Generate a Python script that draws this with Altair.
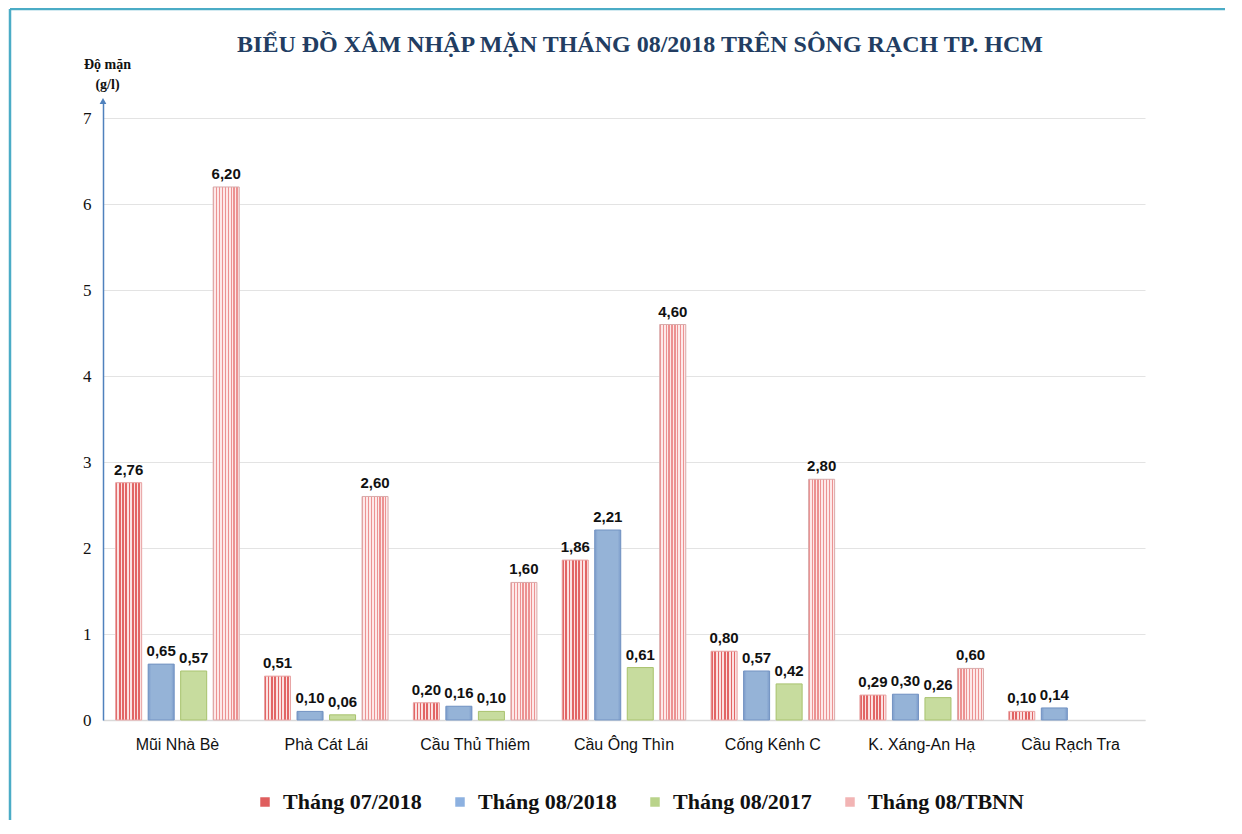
import altair as alt
import pandas as pd

locations = ["Mũi Nhà Bè", "Phà Cát Lái", "Cầu Thủ Thiêm", "Cầu Ông Thìn",
             "Cống Kênh C", "K. Xáng-An Hạ", "Cầu Rạch Tra"]
series_names = ["Tháng 07/2018", "Tháng 08/2018", "Tháng 08/2017", "Tháng 08/TBNN"]
thang_07_2018 = [2.76, 0.51, 0.20, 1.86, 0.80, 0.29, 0.10]
thang_08_2018 = [0.65, 0.10, 0.16, 2.21, 0.57, 0.30, 0.14]
thang_08_2017 = [0.57, 0.06, 0.10, 0.61, 0.42, 0.26, None]
thang_08_tbnn = [6.20, 2.60, 1.60, 4.60, 2.80, 0.60, None]
y_ticks = [0, 1, 2, 3, 4, 5, 6, 7]
title_text = "BIỂU ĐỒ XÂM NHẬP MẶN THÁNG 08/2018 TRÊN SÔNG RẠCH TP. HCM"

rows = []
for s, vals in zip(series_names, [thang_07_2018, thang_08_2018, thang_08_2017, thang_08_tbnn]):
    for loc, v in zip(locations, vals):
        if v is not None:
            rows.append({"loc": loc, "series": s, "value": v})
df = pd.DataFrame(rows)


def stripes(c1, c2, n, frac):
    stops = []
    for i in range(n):
        a = i / n
        b = (i + frac) / n
        c = (i + 1) / n
        stops += [{"offset": a, "color": c1}, {"offset": b, "color": c1},
                  {"offset": b, "color": c2}, {"offset": c, "color": c2}]
    return {"gradient": "linear", "x1": 0, "x2": 1, "y1": 0, "y2": 0, "stops": stops}


red_check = stripes("#e26565", "#fbe2e2", 8, 0.5)
red_stripe = stripes("#ec9292", "#fde9e9", 9, 0.45)
blue_grad = {"gradient": "linear", "x1": 0, "x2": 1, "y1": 0, "y2": 0,
             "stops": [{"offset": 0, "color": "#7c9ccb"}, {"offset": 0.12, "color": "#95b3d7"},
                       {"offset": 0.88, "color": "#95b3d7"}, {"offset": 1, "color": "#7c9ccb"}]}
green_fill = "#c7dc9e"

FONT_SERIF = "Liberation Serif"
FONT_SANS = "Liberation Sans"

x_enc = alt.X("loc:N", sort=locations, title=None,
              scale=alt.Scale(paddingInner=0.17, paddingOuter=0.085),
              axis=alt.Axis(labelAngle=0, ticks=False, domainColor="#d9d9d9", domainWidth=1.5,
                            labelFont=FONT_SANS, labelFontSize=16, labelPadding=16,
                            labelColor="#111111", grid=False))
xoff_enc = alt.XOffset("series:N", sort=series_names,
                       scale=alt.Scale(domain=series_names, paddingInner=0.2))
y_enc = alt.Y("value:Q", scale=alt.Scale(domain=[0, 7.2], nice=False),
              axis=alt.Axis(values=y_ticks, format="d", ticks=False, grid=True,
                            gridColor="#e3e3e3",
                            domainColor="#4f81bd", domainWidth=1.5,
                            labelFont=FONT_SERIF, labelFontSize=17, labelPadding=12,
                            labelColor="#111111",
                            title=["Độ mặn", "(g/l)"], titleAngle=0, titleFont=FONT_SERIF,
                            titleFontSize=14, titleFontWeight="bold", titleX=4, titleY=-44,
                            titleAlign="center", titleBaseline="top", titleColor="#111111",
                            titleLineHeight=20))

base = alt.Chart(df)

bars = base.mark_bar(stroke="#ffffff", strokeWidth=0.5).encode(
    x=x_enc, xOffset=xoff_enc, y=y_enc,
    color=alt.Color("series:N", sort=series_names,
                    scale=alt.Scale(domain=series_names,
                                    range=["#df5e5e", "#8db1e0", "#b9d38a", "#f2b4b4"]),
                    legend=alt.Legend(title=None, orient="none", direction="horizontal",
                                      columns=4, legendX=151, legendY=690,
                                      labelFont=FONT_SERIF, labelFontSize=22,
                                      labelFontWeight="bold", labelColor="#111111",
                                      symbolType="square", symbolSize=90,
                                      symbolStrokeWidth=0, labelOffset=7,
                                      columnPadding=27, labelLimit=300))
)


def overlay(name, fill, stroke):
    return base.transform_filter(alt.datum.series == name).mark_bar(
        fill=fill, stroke=stroke, strokeWidth=1
    ).encode(x=alt.X("loc:N", sort=locations), xOffset=alt.XOffset("series:N", sort=series_names),
             y=alt.Y("value:Q"))


ov1 = overlay(series_names[0], red_check, "#e8a4a4")
ov2 = overlay(series_names[1], blue_grad, "#7393c2")
ov3 = overlay(series_names[2], green_fill, "#a9c36f")
ov4 = overlay(series_names[3], red_stripe, "#d9abab")

labels = base.transform_calculate(
    lab="replace(format(datum.value, '.2f'), '.', ',')"
).mark_text(baseline="bottom", dy=-5, font=FONT_SANS, fontSize=15, fontWeight="bold",
            color="#111111").encode(
    x=alt.X("loc:N", sort=locations), xOffset=alt.XOffset("series:N", sort=series_names),
    y=alt.Y("value:Q"), text="lab:N")

arrow = alt.Chart(pd.DataFrame({"v": [7.2]})).mark_point(
    shape="triangle-up", filled=True, size=45, color="#4f81bd", opacity=1
).encode(y=alt.Y("v:Q"), x=alt.value(0))

title_mark = alt.Chart(pd.DataFrame({"t": [title_text]})).mark_text(
    font=FONT_SERIF, fontSize=24, fontWeight="bold", color="#223d62",
    align="center", baseline="middle"
).encode(text="t:N", x=alt.value(537), y=alt.value(-56))

frame_top = alt.Chart(pd.DataFrame({"v": [0]})).mark_rule(
    color="#4bacc6", strokeWidth=2.5
).encode(x=alt.value(-93), x2=alt.value(1200), y=alt.value(-92))
frame_left = alt.Chart(pd.DataFrame({"v": [0]})).mark_rule(
    color="#4bacc6", strokeWidth=2.5
).encode(x=alt.value(-93), y=alt.value(-92), y2=alt.value(800))

chart = alt.layer(bars, ov1, ov2, ov3, ov4, labels, arrow, title_mark,
                  frame_top, frame_left).properties(
    width=1042, height=619,
    autosize=alt.AutoSizeParams(type="none"),
    padding={"left": 95, "top": 93, "right": 80, "bottom": 100},
    background="white"
).configure_view(stroke=None)

chart.save("out.html", embed_options={"renderer": "svg", "actions": False})
